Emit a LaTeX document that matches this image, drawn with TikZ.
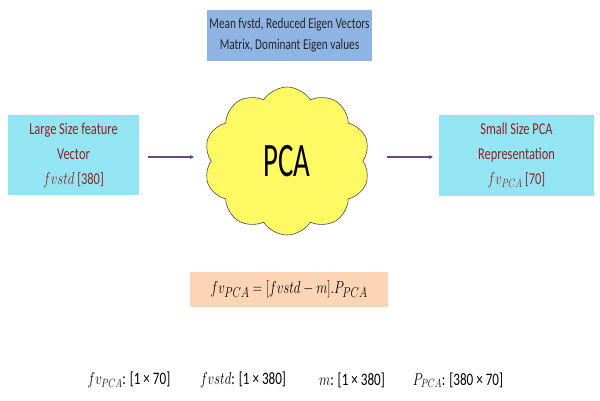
\documentclass[tikz,border=0pt]{standalone}
\usepackage{fontspec}
\usepackage{graphicx}
\setmainfont[FakeStretch=0.75]{Carlito}
\newfontfamily\pcafont[FakeStretch=0.6]{Carlito}
\newcommand{\mq}[1]{\scalebox{0.75}[1]{$#1$}}
\usetikzlibrary{shapes.symbols,arrows.meta}
\definecolor{topblue}{RGB}{142,180,227}
\definecolor{boxcyan}{RGB}{147,229,243}
\definecolor{txtred}{RGB}{145,32,32}
\definecolor{arrowc}{RGB}{96,78,128}
\definecolor{cloudy}{RGB}{255,250,100}
\definecolor{peach}{RGB}{251,213,181}
\tikzset{
  box/.style={fill=boxcyan, text=txtred, align=center, font=\fontsize{16.5}{25}\selectfont, inner sep=0pt},
  conn/.style={draw=arrowc, line width=1.2pt, -{Stealth[length=4pt,width=4pt]}},
  dim/.style={font=\fontsize{17.5}{20}\selectfont, inner sep=0pt}
}
\begin{document}
\begin{tikzpicture}[x=1pt,y=-1pt]
\useasboundingbox (0,0) rectangle (600,400);
\fill[white] (0,0) rectangle (600,400);
\node[fill=topblue, align=center, minimum width=165pt, minimum height=51pt, inner sep=0pt, font=\fontsize{15}{21}\selectfont, text=black!85] (top) at (289.5,35.5) {Mean fvstd, Reduced Eigen Vectors\\Matrix, Dominant Eigen values};
\node[box, minimum width=131pt, minimum height=80pt] (left) at (73.5,155) {Large Size feature\\Vector\\\mq{\fontsize{20}{22}\selectfont fvstd} [380]};
\node[box, minimum width=155pt, minimum height=81pt] (right) at (516.5,155.5) {Small Size PCA\\Representation\\\mq{\fontsize{20}{22}\selectfont fv_{PCA}} [70]};
\node[cloud, cloud puffs=10, cloud puff arc=115, aspect=1.15, draw=black!70, fill=cloudy, line width=0.6pt, minimum width=166pt, minimum height=148pt, inner sep=0pt, font=\pcafont\fontsize{48}{50}\selectfont, text=black] (pca) at (287,161) {PCA};
\coordinate (la) at (148,157);
\coordinate (lb) at (194,157);
\coordinate (ra) at (387,157);
\coordinate (rb) at (433,157);
\draw[conn] (la) -- (lb);
\draw[conn] (ra) -- (rb);
\node[fill=peach, minimum width=198pt, minimum height=35pt, inner sep=0pt, font=\fontsize{19}{22}\selectfont] (eq) at (289,289.5) {\mq{fv_{PCA} = [fvstd - m].P_{PCA}}};
\node[dim] (d1) at (129,380) {\mq{fv_{PCA}}: [1 × 70]};
\node[dim] (d2) at (243,380) {\mq{fvstd}: [1 × 380]};
\node[dim] (d3) at (352,380) {\mq{m}: [1 × 380]};
\node[dim] (d4) at (458,380) {\mq{P_{PCA}}: [380 × 70]};
\end{tikzpicture}
\end{document}
